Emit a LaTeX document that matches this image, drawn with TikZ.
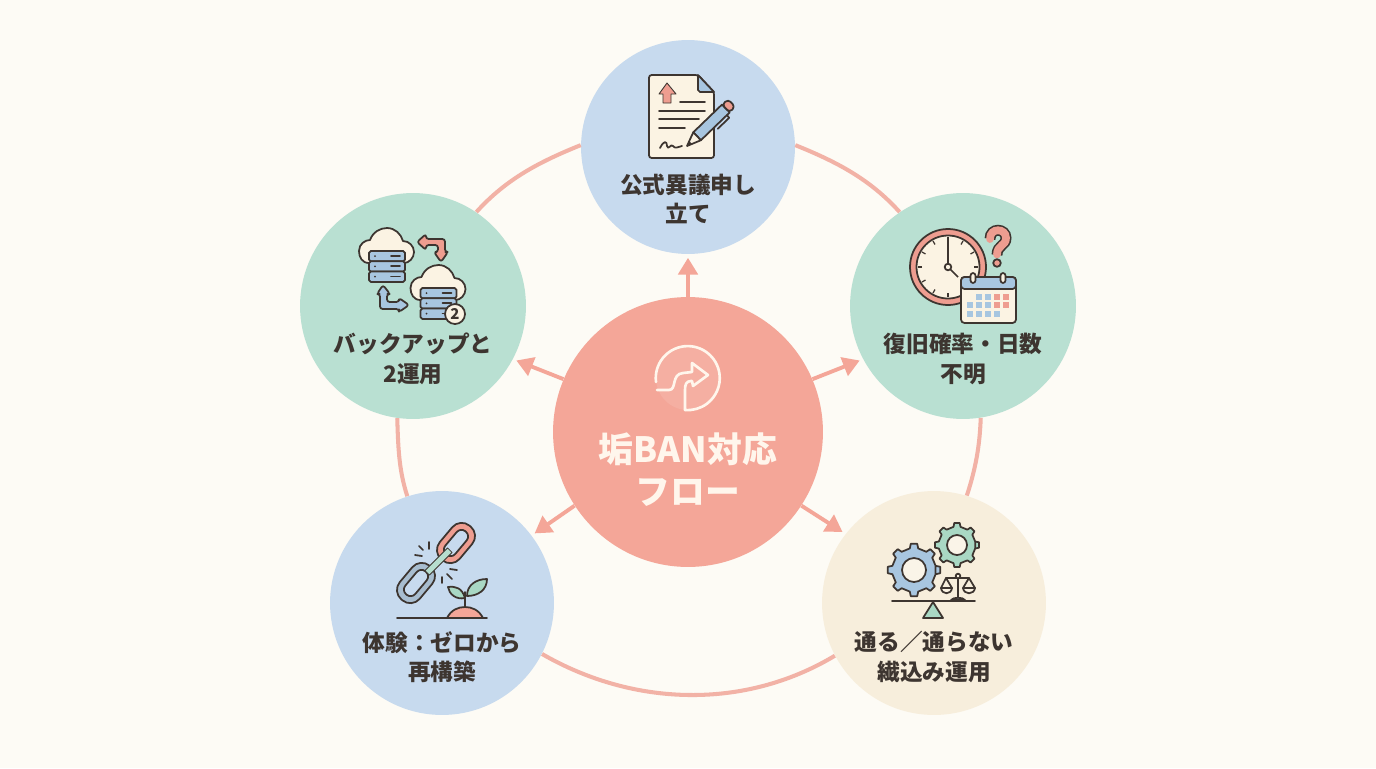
\documentclass[tikz,border=0pt]{standalone}
\usepackage{fontspec}
\setmainfont{Noto Sans CJK JP}
\usetikzlibrary{arrows.meta,positioning,calc}
\definecolor{bgc}{HTML}{FDFBF5}
\definecolor{bluec}{HTML}{C7DAEE}
\definecolor{greenc}{HTML}{B9E0D2}
\definecolor{creamc}{HTML}{F7EEDC}
\definecolor{hubc}{HTML}{F4A698}
\definecolor{ringc}{HTML}{F2B2A6}
\definecolor{inkc}{HTML}{3D3530}
\definecolor{hubtxt}{HTML}{FFF6EC}
\definecolor{paperc}{HTML}{FBF3E3}
\definecolor{pinkc}{HTML}{EE9D90}
\definecolor{stealc}{HTML}{A8C6E0}
\definecolor{leafc}{HTML}{A9D8C4}
\definecolor{linkc}{HTML}{A8BDCF}
\tikzset{
  bubble/.style={circle,inner sep=0pt,minimum size=#1*0.04cm},
  lab/.style={align=center,inner sep=0pt,font=\fontsize{12.9pt}{16.8pt}\selectfont\bfseries,text=inkc},
  ringline/.style={draw=ringc,line width=2.3pt,looseness=0.92},
  flow/.style={draw=hubc,line width=2.2pt,shorten >=2pt,-{Triangle[width=11pt,length=9.5pt]}},
  icon/.style={draw=inkc,line width=1pt,line join=round,line cap=round},
}
% x y in pixels of the picture
\newcommand{\gearicon}[4]{%
  \draw[icon,fill=#4] (#1) ++(11:#2) \foreach \a in {0,45,...,315} {
      -- ++(0,0) -- ($(#1)+(\a-11:#2)$) -- ($(#1)+(\a-7:#2*1.2)$) -- ($(#1)+(\a+7:#2*1.2)$) -- ($(#1)+(\a+11:#2)$)
      -- ($(#1)+(\a+45-11:#2)$)} -- cycle;
  \draw[icon,fill=bgc!50!creamc] (#1) circle [radius=#3];
}
\newcommand{\cloudserver}[1]{%
  \begin{scope}[shift={(#1)}]
    \draw[icon,fill=paperc] (10,35) .. controls (3,35) and (0,29) .. (0,23) .. controls (0,16) and (6,12) .. (11,12)
      .. controls (14,4) and (21,0) .. (28,0) .. controls (36,0) and (42,6) .. (44,13)
      .. controls (50,13) and (55,18) .. (55,24) .. controls (55,30) and (50,35) .. (45,35) -- cycle;
    \foreach \r in {0,1,2} {
      \draw[icon,fill=stealc,rounded corners=1pt] (10,23+\r*10.3) rectangle (46,33.3+\r*10.3);
      \fill[inkc] (16,28+\r*10.3) circle [radius=1];
      \draw[icon] (32,28+\r*10.3) -- (41,28+\r*10.3);
    }
  \end{scope}
}
\begin{document}
\begin{tikzpicture}[x=0.02cm,y=-0.02cm]
\useasboundingbox (0,0) rectangle (1376,768);
\fill[bgc] (0,0) rectangle (1376,768);

% circles
\node[bubble=107,fill=bluec] (appeal) at (688,147) {};
\node[bubble=113,fill=greenc] (odds) at (963,306) {};
\node[bubble=113,fill=greenc] (backup) at (413,306) {};
\node[bubble=112,fill=bluec] (rebuild) at (442,603) {};
\node[bubble=112,fill=creamc] (mix) at (934,603) {};
\node[bubble=135,fill=hubc] (hub) at (688,432) {};

% ring
\draw[ringline] (appeal.1) to[out=-22,in=132] (odds.124);
\draw[ringline] (odds.-81) to[out=-92,in=72] (mix.73);
\draw[ringline] (mix.208) to[out=-149,in=-30] (rebuild.-27);
\draw[ringline] (rebuild.108) to[out=108,in=-88] (backup.262);
\draw[ringline] (backup.56) to[out=48,in=-158] (appeal.179);

% arrows
\draw[flow] (hub.90) -- (appeal.-90);
\draw[flow] (hub.23) -- (odds.208);
\draw[flow] (hub.157) -- (backup.-28);
\draw[flow] (hub.213.6) -- (rebuild.37);
\draw[flow] (hub.-33.6) -- (mix.142.6);

% labels
\node[lab] (appealtxt) at (688,199) {公式異議申し\\立て};
\node[lab] (oddstxt) at (963,359) {復旧確率・日数\\不明};
\node[lab] (backuptxt) at (413,359) {バックアップと\\2運用};
\node[lab] (rebuildtxt) at (442,657) {体験：ゼロから\\再構築};
\node[lab] (mixtxt) at (934,657) {通る／通らない\\繊込み運用};
\node[align=center,inner sep=0pt,text=hubtxt,font=\fontsize{19.8pt}{23.8pt}\selectfont\bfseries] (hubtxtn) at (688,470) {垢BAN対応\\フロー};

% hub icon
\fill[white,opacity=0.1] (688,378) circle [radius=32];
\draw[hubtxt,line width=1.5pt,line cap=round] (656,382) arc [start angle=173,end angle=455,radius=32];
\draw[hubtxt,line width=1.5pt,line cap=round,line join=round] (657,390) -- (669,390) .. controls (677,390) and (671,374) .. (683,373)
  -- (692,372) -- (692,363) -- (708,375) -- (693,386) -- (692,381) -- (691,381) .. controls (686,381) and (685,385) .. (685,390) -- (685,410);

% document icon
\draw[icon,fill=paperc,rounded corners=1.5pt] (649,75) -- (698,75) -- (714,92) -- (714,158) -- (649,158) -- cycle;
\draw[icon,fill=stealc] (698,75) -- (714,92) -- (700,92) -- (698,90) -- cycle;
\draw[icon,fill=pinkc,line width=0.5pt] (667,83) -- (676,94) -- (671,94) -- (671,103) -- (663,103) -- (663,94) -- (659,94) -- cycle;
\draw[icon] (680,102) -- (705,102);
\draw[icon] (659,111) -- (705,111);
\draw[icon] (659,119) -- (699,119);
\draw[icon] (659,128) -- (685,128);
\draw[icon] (660,148) .. controls (664,140) and (667,141) .. (667,146) .. controls (668,151) and (671,143) .. (673,146) .. controls (675,149) and (678,147) .. (682,146);
\begin{scope}[shift={(687,146)},rotate=44]
  \draw[icon,fill=stealc] (14,-5.5) -- (54,-5.5) -- (54,5.5) -- (14,5.5) -- cycle;
  \draw[icon,fill=paperc] (0,0) -- (14,-5.5) -- (14,5.5) -- cycle;
  \fill[inkc] (0,0) -- (5,-2) -- (5,2) -- cycle;
  \draw[icon,fill=pinkc,rounded corners=2pt] (54,-5.5) -- (62,-5) -- (62,5) -- (54,5.5) -- cycle;
  \draw[icon] (34,9) -- (50,9) -- (50,5.5);
\end{scope}

% clock and calendar icon
\draw[icon,fill=pinkc] (948,267) circle [radius=38];
\draw[icon,fill=paperc] (948,267) circle [radius=31.5];
\foreach \a in {0,30,...,330}
  \draw[inkc,line width=0.7pt] (\a:26)++(948,267) -- ++(\a:4);
\draw[inkc,line width=1pt] (948,267) -- (948,240);
\draw[inkc,line width=1pt] (948,267) -- (958,277);
\draw[icon,fill=paperc] (948,267) circle [radius=3.3];
\draw[icon,fill=paperc,rounded corners=2pt] (961,277) rectangle (1016,323);
\draw[icon,fill=stealc,rounded corners=2pt] (961,289) -- (961,277) -- (1016,277) -- (1016,289) -- cycle;
\foreach \x in {973,1003}
  \draw[icon,fill=paperc,rounded corners=1.5pt] (\x-2.5,273) rectangle (\x+2.5,283);
\foreach \x/\y in {979/297,988/297,970/305,979/305,988/305,970/314,979/314,988/314,997/314}
  \fill[stealc] (\x-2.8,\y-2.8) rectangle (\x+2.8,\y+2.8);
\foreach \x/\y in {997/297,1006/297,997/305,1006/305}
  \fill[pinkc] (\x-2.8,\y-2.8) rectangle (\x+2.8,\y+2.8);
\draw[inkc,line width=6.2pt,line cap=butt] (990,239) .. controls (990,227) and (1006,228) .. (1006,238) .. controls (1006,246) and (997,245) .. (997,255);
\draw[pinkc,line width=4.4pt,line cap=round] (990,239) .. controls (990,227) and (1006,228) .. (1006,238) .. controls (1006,246) and (997,245) .. (997,254.5);
\draw[icon,fill=pinkc] (997,263) circle [radius=3.8];

% backup icon
\cloudserver{359,228}
\cloudserver{410.5,265}
\draw[icon,fill=pinkc,rounded corners=1.5pt] (417,242) -- (426,234) -- (426,239) -- (445,239) -- (445,252) -- (448,252) -- (441,262) -- (434,252) -- (438,252) -- (438,245) -- (426,245) -- (426,250) -- cycle;
\draw[icon,fill=stealc,rounded corners=1.5pt] (383,285) -- (390,294) -- (387,294) -- (387,302) -- (399,302) -- (399,298) -- (409,305) -- (399,312) -- (399,309) -- (380,309) -- (380,294) -- (377,294) -- cycle;
\draw[icon,fill=paperc] (455,314) circle [radius=10];
\node[inner sep=0pt,text=inkc,font=\fontsize{8.5pt}{9pt}\selectfont\bfseries] (badge) at (455,314) {2};

% chain and sprout icon
\begin{scope}[shift={(456,543)},rotate=50]
  \draw[icon,fill=pinkc,rounded corners=7pt] (-22,-13) rectangle (22,13);
  \draw[icon,fill=bluec,rounded corners=3.5pt] (-15,-6.5) rectangle (15,6.5);
\end{scope}
\begin{scope}[shift={(416,583)},rotate=50]
  \draw[icon,fill=linkc,rounded corners=7pt] (-22,-13) rectangle (22,13);
  \draw[icon,fill=bluec,rounded corners=3.5pt] (-15,-6.5) rectangle (15,6.5);
\end{scope}
\begin{scope}[shift={(438.5,561.5)},rotate=45]
  \draw[icon,fill=greenc!80!leafc,line width=0.5pt] (-16,-3.2) rectangle (16,3.2);
\end{scope}
\draw[icon] (419,546) -- (423,550);
\draw[icon] (429,542) -- (429,549);
\draw[icon] (415,555) -- (422,556);
\draw[icon] (450,569) -- (457,570);
\draw[icon] (447,574) -- (452,579);
\draw[icon] (442,577) -- (442,583);
\draw[icon,fill=hubc] (447,618) .. controls (451,610) and (458,607) .. (465,607) .. controls (472,607) and (479,610) .. (483,618) -- cycle;
\draw[icon] (397,618) -- (487,618);
\draw[icon] (465,607) -- (465,592);
\draw[icon,fill=leafc] (465,598) .. controls (462,588) and (456,586) .. (448,587) .. controls (449,594) and (456,600) .. (465,598) -- cycle;
\draw[icon,fill=leafc] (467,596) .. controls (467,585) and (476,579) .. (487,579) .. controls (487,590) and (478,596) .. (467,596) -- cycle;

% gears and scale icon
\gearicon{914,570}{22}{12}{stealc}
\gearicon{957,545}{18.5}{10}{leafc}
\draw[icon] (892,601) -- (975,601);
\draw[icon,fill=leafc] (933,602) -- (923,618) -- (943,618) -- cycle;
\draw[icon,fill=stealc] (951,600) .. controls (953,597) and (963,597) .. (965,600) -- cycle;
\draw[icon] (958,576) -- (958,598);
\draw[icon] (946,578) -- (969,578);
\draw[icon,fill=paperc] (958,576) circle [radius=2.3];
\draw[icon] (941,588) -- (946,578) -- (952,588);
\draw[icon] (963,588) -- (969,578) -- (975,588);
\draw[icon,fill=paperc] (941,588) .. controls (942,595) and (951,595) .. (952,588) -- cycle;
\draw[icon,fill=paperc] (963,588) .. controls (964,595) and (974,595) .. (975,588) -- cycle;
\end{tikzpicture}
\end{document}
